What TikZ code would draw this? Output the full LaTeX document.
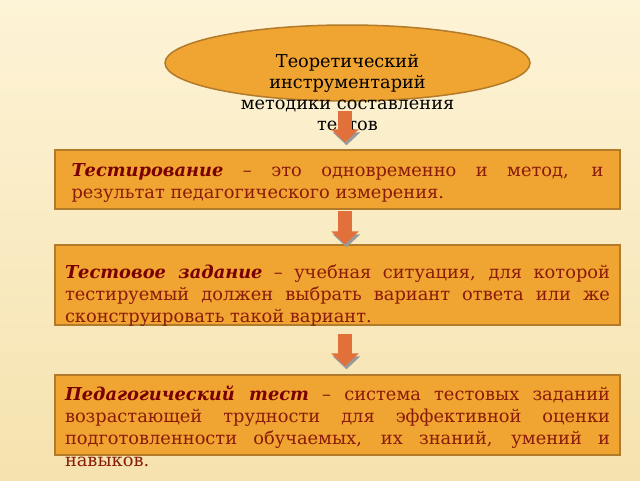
\documentclass[tikz,border=0pt]{standalone}
\usepackage{fontspec}
\setmainfont{DejaVu Serif}
\usetikzlibrary{shapes.geometric,arrows.meta}
\definecolor{boxfill}{HTML}{F0A431}
\definecolor{boxline}{HTML}{B27B2B}
\definecolor{textred}{HTML}{8A1A0A}
\definecolor{termred}{HTML}{780000}
\definecolor{arrowfill}{HTML}{E2703A}
\definecolor{bgtop}{HTML}{FDF3D6}
\definecolor{bgbottom}{HTML}{F5E2AE}
\hyphenpenalty=10000
\exhyphenpenalty=10000
\tolerance=9999
\newcommand{\term}[1]{\textcolor{termred}{\textbf{\textit{#1}}}}
\tikzset{
  theorybox/.style={ellipse, draw=boxline, fill=boxfill, line width=1.5pt,
    minimum width=365pt, minimum height=76pt, inner sep=0pt,
    text width=240pt, align=center, text height=8pt, text depth=0pt,
    font=\fontsize{17.7}{21}\selectfont},
  defbox/.style={rectangle, draw=boxline, fill=boxfill, line width=1.5pt,
    minimum width=565pt, inner sep=0pt, align=justify, text=textred,
    font=\fontsize{17.8}{22.3}\selectfont},
  blockarrow/.style={draw=arrowfill, line width=14pt,
    -{Triangle[width=27pt,length=13pt]},
    preaction={draw=black!40, transform canvas={xshift=1.5pt,yshift=-3pt}}},
}
\begin{document}
\begin{tikzpicture}[x=1pt,y=1pt]
   \begin{scope}[yscale=-1]
   \shade[top color=bgtop, bottom color=bgbottom] (0,0) rectangle (640,480);
   \useasboundingbox (0,0) rectangle (640,480);
   \node[theorybox] (theory) at (347.5,63)
     {Теоретический\\ инструментарий\\ методики составления\\ тестов};
   \node[defbox, text width=532pt, text height=26pt, text depth=33pt] (testing) at (337.5,179.5)
     {\term{Тестирование} – это одновременно и метод, и\linebreak
      результат педагогического измерения.};
   \node[defbox, text width=545pt, text height=33pt, text depth=47pt] (task) at (337.5,285)
     {\term{Тестовое задание} – учебная ситуация, для которой\linebreak
      тестируемый должен выбрать вариант ответа или же\linebreak
      сконструировать такой вариант.};
   \node[defbox, text width=545pt, text height=25pt, text depth=55pt] (pedtest) at (337.5,415)
     {\term{Педагогический тест} – система тестовых заданий\linebreak
      возрастающей трудности для эффективной оценки\linebreak
      подготовленности обучаемых, их знаний, умений и\linebreak
      навыков.};
   \draw[blockarrow] ([xshift=-2.5pt,yshift=9pt]theory.south) -- ([xshift=7.5pt,yshift=-7pt]testing.north);
   \draw[blockarrow] ([xshift=7.5pt,yshift=1pt]testing.south) -- ([xshift=7.5pt]task.north);
   \draw[blockarrow] ([xshift=7.5pt,yshift=8pt]task.south) -- ([xshift=7.5pt,yshift=-8pt]pedtest.north);
   \end{scope}
\end{tikzpicture}
\end{document}
